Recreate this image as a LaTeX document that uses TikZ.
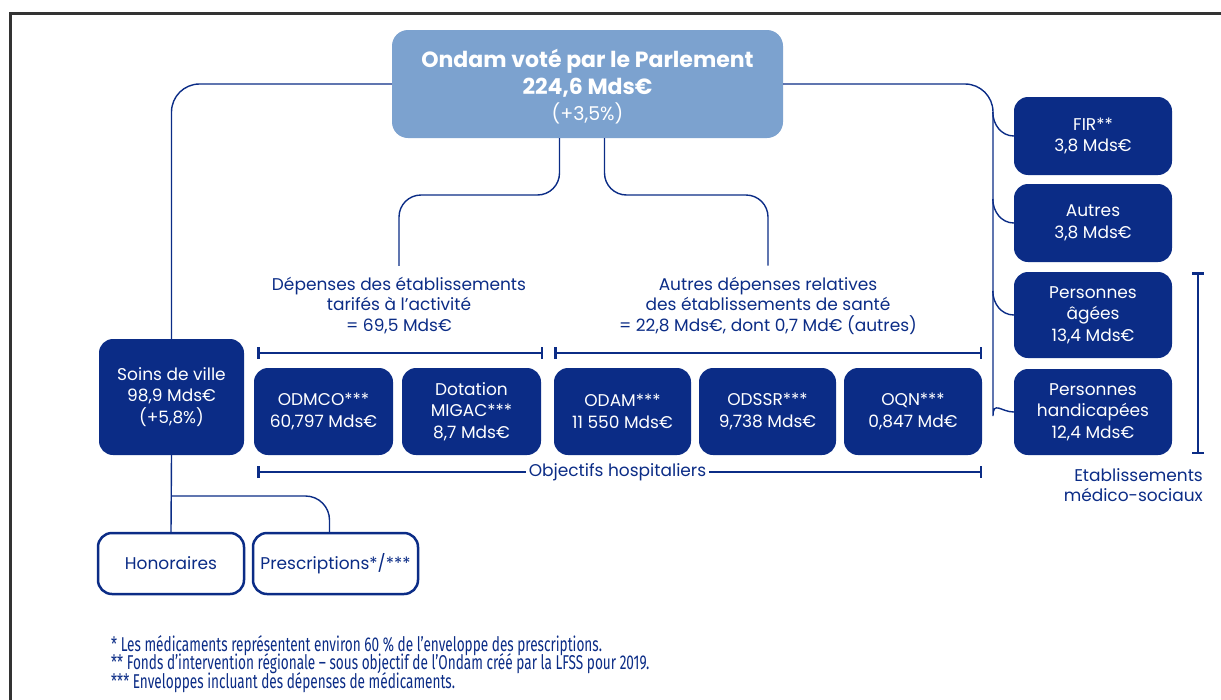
\documentclass[tikz,border=0pt]{standalone}
\usepackage{fontspec}
\setmainfont{Poppins}
\newfontfamily\notefont[FakeStretch=0.68]{Fira Sans}
\usetikzlibrary{arrows.meta}
\definecolor{navy}{HTML}{0B2C86}
\definecolor{ondamblue}{HTML}{7CA2CF}
\definecolor{framegray}{HTML}{333333}

\begin{document}
\begin{tikzpicture}[x=1pt, y=-1pt,
every node/.style = {align=center, inner sep=0pt},
box/.style = {shape=rectangle, rounded corners=14pt, fill=navy, text=white,
  font=\fontsize{17}{21.5}\selectfont},
lightbox/.style = {box, fill=white, draw=navy, line width=2.5pt, text=navy},
label/.style = {text=navy, font=\fontsize{17}{20.5}\selectfont},
link/.style = {draw=navy, line width=1.4pt},
span/.style = {draw=navy, line width=2.5pt, {Bar[width=12pt]}-{Bar[width=12pt]}}
]
\useasboundingbox (0,0) rectangle (1221,699);
\draw[framegray, line width=3pt] (10,720) -- (10,13) -- (1240,13);

% top of the tree
\node [box, fill=ondamblue, minimum width=391pt, minimum height=108pt, rounded corners=16pt,
  font=\fontsize{22}{26.5}\selectfont\bfseries]
  (top) at (587.5,84) {\rule{0pt}{24pt}Ondam voté par le Parlement\\224,6 Mds€\\[0pt]
  \mdseries\fontsize{19}{24}\selectfont (+3,5\%)};

% hospital objectives
\node [box, minimum width=145pt, minimum height=116pt] (soins) at (171.5,397) {Soins de ville\\98,9 Mds€\\(+5,8\%)};
\node [box, minimum width=139pt, minimum height=87pt] (odmco) at (323.5,411.5) {ODMCO***\\60,797 Mds€};
\node [box, minimum width=139pt, minimum height=87pt] (migac) at (471.5,411.5) {Dotation\\MIGAC***\\8,7 Mds€};
\node [box, minimum width=137pt, minimum height=87pt] (odam) at (622.5,411.5) {ODAM***\\11 550 Mds€};
\node [box, minimum width=137pt, minimum height=87pt] (odssr) at (767.5,411.5) {ODSSR***\\9,738 Mds€};
\node [box, minimum width=138pt, minimum height=87pt] (oqn) at (913,411.5) {OQN***\\0,847 Md€};

\node [label] (dep) at (399,305.5) {Dépenses des établissements\\tarifés à l’activité\\= 69,5 Mds€};
\node [label] (autdep) at (768,305.5) {Autres dépenses relatives\\des établissements de santé\\= 22,8 Mds€, dont 0,7 Md€ (autres)};

% medico-social side
\node [box, minimum width=158pt, minimum height=78pt] (fir) at (1093,136) {FIR**\\3,8 Mds€};
\node [box, minimum width=158pt, minimum height=78pt] (autres) at (1093,223) {Autres\\3,8 Mds€};
\node [box, minimum width=158pt, minimum height=86pt] (agees) at (1093,315) {Personnes\\âgées\\13,4 Mds€};
\node [box, minimum width=158pt, minimum height=86pt] (handi) at (1093,412) {Personnes\\handicapées\\12,4 Mds€};
\node [label, anchor=north east, align=right] (medsoc) at (1203,468) {Etablissements\\médico-sociaux};

% soins de ville split
\node [lightbox, minimum width=146pt, minimum height=61pt] (honor) at (171,563.5) {Honoraires};
\node [lightbox, minimum width=165pt, minimum height=61pt] (presc) at (335.5,563.5) {Prescriptions*/***};

\node [anchor=west, align=left, text=navy, font=\notefont\fontsize{20}{17}\selectfont] (notes) at (111,664)
  {* Les médicaments représentent environ 60 \% de l’enveloppe des prescriptions.\\[-3pt]
   ** Fonds d’intervention régionale – sous objectif de l’Ondam créé par la LFSS pour 2019.\\[-3pt]
   *** Enveloppes incluant des dépenses de médicaments.};

% links
\coordinate (dk) at (399,195);
\coordinate (ak) at (768,195);
\coordinate (sb) at (172,496);
\draw[link, rounded corners=28pt] (top.west) -| (soins.north);
\draw[link, rounded corners=28pt] (top.east) -| (993,388) to[out=-90,in=180] (handi.west);
\foreach \b in {fir,autres,agees}
  \draw[link] (\b.west) ++(-21,-24) to[out=-90,in=180] (\b.west);
\draw[link, rounded corners=22pt] ([xshift=-28pt]top.south) |- (dk) -- ([yshift=11pt]dep.north);
\draw[link, rounded corners=22pt] ([xshift=17pt]top.south) |- (ak) -- ([yshift=11pt]autdep.north);
\draw[link] (soins.south) -- (honor.north);
\draw[link, rounded corners=24pt] (sb) -| ([xshift=-6pt]presc.north);

% brackets
\coordinate (s1a) at (257,353);
\coordinate (s1b) at (543,353);
\coordinate (s2a) at (554,353);
\coordinate (s2b) at (982,353);
\coordinate (s3a) at (257,472);
\coordinate (s3b) at (982,472);
\coordinate (s4a) at (1198,272);
\coordinate (s4b) at (1198,454);
\draw[span] (s1a) -- (s1b);
\draw[span] (s2a) -- (s2b);
\draw[span] (s3a) -- (s3b);
\draw[span] (s4a) -- (s4b);
\node [label, fill=white, inner xsep=3pt, inner ysep=2pt] (obj) at (617.5,472) {Objectifs hospitaliers};

\end{tikzpicture}
\end{document}
